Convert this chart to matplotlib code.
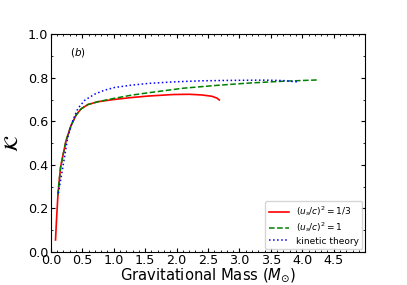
import matplotlib

matplotlib.use("Agg")

import matplotlib.pyplot as plt
from matplotlib.ticker import MultipleLocator

# compactness vs mass
mass_13 = [0.074, 0.09, 0.11, 0.13, 0.155, 0.19, 0.24, 0.32, 0.40, 0.48, 0.59,
           0.75, 1.0, 1.28, 1.55, 1.95, 2.2, 2.4, 2.56, 2.64, 2.68]
comp_13 = [0.055, 0.15, 0.25, 0.32, 0.39, 0.44, 0.51, 0.58, 0.628, 0.657, 0.677,
           0.69, 0.70, 0.709, 0.716, 0.723, 0.724, 0.721, 0.715, 0.707, 0.698]

mass_1 = [0.11, 0.13, 0.155, 0.19, 0.24, 0.32, 0.40, 0.48, 0.59, 0.75, 1.0,
          1.28, 1.55, 2.11, 2.64, 3.17, 3.7, 4.25]
comp_1 = [0.26, 0.32, 0.39, 0.44, 0.51, 0.58, 0.628, 0.657, 0.677, 0.69, 0.705,
          0.72, 0.731, 0.752, 0.765, 0.776, 0.784, 0.79]

mass_kin = [0.12, 0.165, 0.218, 0.27, 0.35, 0.43, 0.54, 0.70, 0.855, 1.01, 1.28,
            1.55, 1.95, 2.4, 2.9, 3.4, 3.7, 3.95]
comp_kin = [0.27, 0.346, 0.437, 0.529, 0.605, 0.659, 0.697, 0.725, 0.743, 0.755,
            0.766, 0.774, 0.781, 0.786, 0.788, 0.789, 0.787, 0.78]

x_ticks = [0.0, 0.5, 1.0, 1.5, 2.0, 2.5, 3.0, 3.5, 4.0, 4.5]

fig, ax = plt.subplots(figsize=(4.07, 2.85), dpi=100)
fig.subplots_adjust(left=0.125, right=0.897, top=0.88, bottom=0.116)

ax.plot(mass_13, comp_13, color="red", lw=1.2, label=r"$(u_s/c)^2=1/3$")
ax.plot(mass_1, comp_1, color="green", lw=1.1, ls="--", label=r"$(u_s/c)^2=1$")
ax.plot(mass_kin, comp_kin, color="blue", lw=1.1, ls=":", label="kinetic theory")

ax.set_xlim(0, 5)
ax.set_ylim(0, 1)
ax.set_xticks(x_ticks)
ax.xaxis.set_minor_locator(MultipleLocator(0.1))
ax.yaxis.set_minor_locator(MultipleLocator(0.1))
ax.tick_params(which="both", direction="in", top=True, right=True, labelsize=9.2)
ax.tick_params(axis="x", pad=1.5)
ax.tick_params(axis="y", pad=2)
ax.tick_params(which="major", length=3)
ax.tick_params(which="minor", length=1.5)

ax.set_xlabel(r"Gravitational Mass ($M_{\odot}$)", fontsize=10.6, labelpad=-1)
ax.set_ylabel(r"$\mathcal{K}$", fontsize=14, labelpad=4)
ax.text(0.06, 0.9, r"$(b)$", transform=ax.transAxes, fontsize=7.5)

ax.legend(loc="lower right", fontsize=6.5, handlelength=2.2, labelspacing=0.25,
          borderaxespad=0.3)

fig.savefig("out.png")
